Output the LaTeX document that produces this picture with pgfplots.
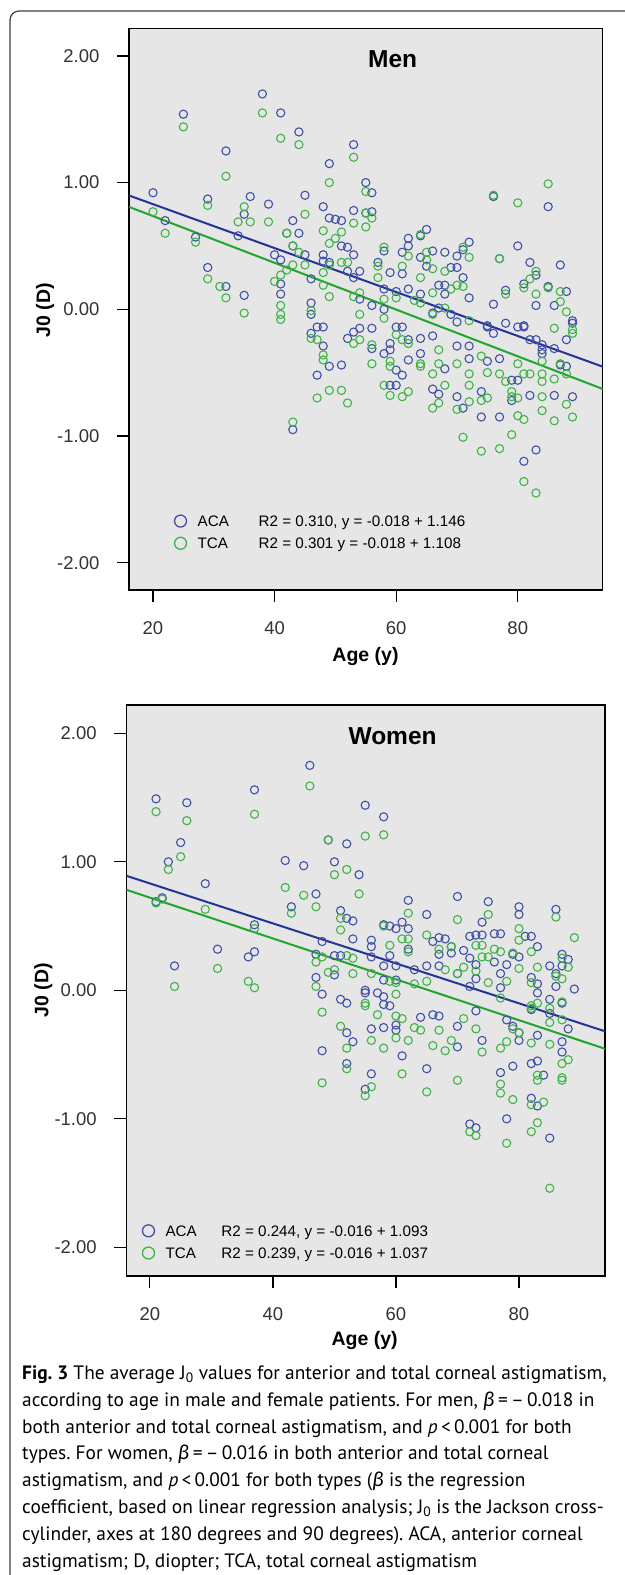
\documentclass[border=0pt]{standalone}
\usepackage{fontspec}
\setmainfont{Liberation Sans}
\newfontfamily\capfont{PT Sans}
\newfontfamily\grk{Fira Sans}
\usepackage{pgfplots}
\pgfplotsset{compat=1.18}
\definecolor{acaM}{RGB}{64,80,168}
\definecolor{tcaM}{RGB}{62,180,70}
\definecolor{acaL}{RGB}{36,52,150}
\definecolor{tcaL}{RGB}{34,165,44}
\definecolor{bg}{RGB}{230,230,230}
\newlength\capw
\newcommand\B{{\grk\itshape β}}
\frenchspacing
\pgfplotsset{
  jstyle/.style={
    scale only axis,
    axis background/.style={fill=bg},
    axis line style={line width=1.3bp, black},
    tick pos=left,
    tick align=outside,
    major tick length=12bp,
    every tick/.style={black, line width=1.2bp},
    xtick={20,40,60,80},
    xticklabels={20,40,60,80},
    ytick={-2,-1,0,1,2},
    yticklabels={-2.00,-1.00,0.00,1.00,2.00},
    tick label style={font=\fontsize{18.5bp}{20bp}\selectfont, text=black!80},
    xticklabel style={anchor=base, inner sep=0pt, yshift=-32.6bp},
    yticklabel style={anchor=east, inner sep=0pt, xshift=-17.5bp},
    legend cell align=left,
    legend style={draw=none, fill=none, inner sep=0pt, outer sep=0pt,
      row sep=5.8bp, column sep=0pt,
      font=\fontsize{15.2bp}{16bp}\selectfont,
      nodes={inner sep=0pt, outer sep=0pt, text height=10.9bp, text depth=0bp}},
    legend image code/.code={\draw[##1, mark size=6bp, mark options={line width=1.3bp}] plot coordinates {(0bp,0bp)}; \path (-8bp,-8bp) (16.9bp,8bp);},
  },
  aca/.style={only marks, mark=o, color=acaM, mark size=4.1bp, mark options={line width=1.1bp}},
  tca/.style={only marks, mark=o, color=tcaM, mark size=4.1bp, mark options={line width=1.1bp}},
}
\begin{document}
\settowidth\capw{\capfont\fontsize{10bp}{12bp}\selectfont\textbf{Fig.\ 3} The average J\textsubscript{0} values for anterior and total corneal astigmatism,}%
\pgfmathsetmacro\capsize{5872/\capw}%
\begin{tikzpicture}
\useasboundingbox (0,0) rectangle (625bp,-1575bp);
\fill[white] (0,0) rectangle (625bp,-1575bp);
\draw[line width=1.2bp, black!75, rounded corners=9bp] (10bp,-1590bp) -- (10bp,-11bp) -- (640bp,-11bp);

% ---------------- Men ----------------
\begin{axis}[jstyle, at={(129.1bp,-590bp)}, anchor=south west,
  width=473.6bp, height=561.7bp,
  xmin=16.07, xmax=93.97, ymin=-2.216, ymax=2.218,
  legend style={at={(0.1082,0.1231)}, anchor=north west, xshift=-8bp, yshift=8bp}]
\addplot[aca] coordinates {
(20,0.92) (22,0.70) (25,1.54) (27,0.57) (29,0.87) (29,0.33) (32,0.18) (32,1.25) (34,0.58) (35,0.11) (35,0.75) (36,0.89) (38,1.70) (39,0.83) (41,1.55) (40,0.43) (41,0.39) (41,0.20) (41,0.12) (42,0.60) (43,0.70) (43,0.50) (44,0.60) (44,1.40) (45,0.90) (45,0.43) (46,0.24) (46,0.05) (46,-0.04) (48,0.81) (48,0.43) (48,0.38) (49,1.15) (49,0.72) (49,0.37) (50,0.71) (51,0.70) (51,0.50) (52,0.49) (52,0.30) (53,1.30) (53,0.78) (53,0.43) (53,0.25) (54,0.30) (54,0.08) (55,1.00) (56,0.92) (55,0.76) (56,0.77) (58,0.46) (57,0.37) (58,0.16) (59,0.29) (58,0.00) (56,0.03) (60,0.14) (61,0.45) (62,0.56) (62,0.50) (61,0.28) (62,0.16) (64,0.58) (65,0.63) (66,0.46) (64,0.41) (65,0.34) (68,0.45) (69,0.33) (70,0.33) (70,0.42) (71,0.47) (72,0.53) (71,0.25) (67,0.19) (68,0.19) (64,0.12) (68,0.12) (72,0.09) (67,0.01) (66,-0.03) (69,-0.04) (70,-0.10) (76,0.89) (85,0.81) (80,0.50) (77,0.40) (82,0.37) (87,0.35) (83,0.27) (81,0.20) (85,0.18) (78,0.15) (76,0.04) (88,0.14) (86,0.03) (83,0.03) (89,-0.09) (75,-0.13) (78,-0.11) (81,-0.13)
(46,-0.19) (47,-0.14) (48,-0.14) (48,-0.29) (49,-0.45) (47,-0.52) (51,-0.44) (52,-0.23) (53,-0.18) (54,-0.15) (56,-0.15) (56,-0.31) (58,-0.35) (59,-0.27) (59,-0.32) (60,-0.14) (61,-0.14) (62,-0.24) (60,-0.48) (61,-0.52) (59,-0.60) (60,-0.60) (62,-0.40) (64,-0.35) (64,-0.23) (66,-0.21) (68,-0.47) (66,-0.63) (67,-0.67) (70,-0.69) (71,-0.78) (72,-0.29) (72,-0.39) (70,-0.29) (74,-0.65) (74,-0.85) (75,-0.41) (75,-0.14) (77,-0.85) (77,-0.39) (76,-0.19) (79,-0.56) (79,-0.72) (81,-1.20) (83,-1.11) (82,-0.68) (86,-0.68) (89,-0.69) (88,-0.45) (87,-0.44) (86,-0.31) (88,-0.24) (89,-0.11) (84,-0.28) (84,-0.32) (84,-0.35) (82,-0.24) (83,-0.24) (80,-0.14) (81,-0.14) (80,-0.56) (43,-0.95)
};
\addlegendentry{\makebox[61bp][l]{ACA}R2 = 0.310, y = -0.018 + 1.146}
\addplot[tca] coordinates {
(20,0.77) (22,0.60) (25,1.44) (27,0.53) (29,0.82) (29,0.24) (31,0.18) (32,0.09) (32,1.05) (34,0.69) (35,-0.03) (35,0.81) (36,0.69) (38,1.55) (39,0.69) (41,1.35) (40,0.22) (41,0.27) (41,0.03) (41,-0.04) (42,0.60) (43,0.50) (42,0.31) (44,1.30) (45,0.75) (43,0.35) (45,0.35) (44,0.45) (46,-0.01) (48,0.62) (48,0.29) (48,0.19) (49,1.00) (49,0.52) (49,0.10) (49,0.35) (51,0.61) (50,0.56) (51,0.37) (52,0.37) (53,1.20) (53,0.68) (53,0.10) (54,0.13) (54,-0.04) (55,0.93) (55,0.76) (55,0.65) (56,0.72) (58,0.49) (57,0.34) (57,0.25) (58,0.08) (58,-0.07) (60,0.09) (62,0.42) (61,0.34) (63,0.07) (64,0.59) (65,0.45) (65,0.39) (64,0.25) (66,0.32) (68,0.30) (71,0.49) (72,0.41) (70,0.19) (66,0.13) (64,0.05) (71,0.18) (69,0.16) (68,0.01) (66,-0.04) (72,-0.09) (76,0.90) (80,0.84) (85,0.99) (77,0.40) (83,0.30) (82,0.24) (81,0.17) (85,0.17) (78,0.12) (83,0.12) (87,0.14) (87,0.06) (88,-0.02) (89,-0.16)
(41,-0.08) (46,-0.23) (47,-0.24) (48,-0.36) (48,-0.40) (49,-0.64) (51,-0.64) (47,-0.70) (52,-0.74) (53,-0.27) (54,-0.24) (56,-0.28) (56,-0.43) (59,-0.41) (59,-0.45) (60,-0.20) (61,-0.24) (62,-0.27) (58,-0.60) (59,-0.68) (61,-0.69) (62,-0.65) (64,-0.43) (64,-0.45) (66,-0.51) (67,-0.43) (67,-0.32) (68,-0.60) (66,-0.78) (67,-0.74) (70,-0.79) (71,-1.01) (72,-0.60) (72,-0.73) (72,-0.51) (70,-0.43) (74,-0.72) (74,-1.12) (75,-0.70) (75,-0.50) (74,-0.37) (77,-1.10) (77,-0.51) (78,-0.57) (79,-0.65) (79,-0.69) (80,-0.70) (79,-0.99) (80,-0.84) (81,-0.87) (81,-1.36) (83,-1.45) (84,-0.69) (84,-0.80) (86,-0.88) (86,-0.55) (88,-0.75) (89,-0.85) (88,-0.51) (87,-0.43) (89,-0.19) (86,-0.15) (84,-0.41) (84,-0.51) (84,-0.57) (82,-0.51) (81,-0.51) (80,-0.43) (43,-0.89)
};
\addlegendentry{\makebox[61bp][l]{TCA}R2 = 0.301 y = -0.018 + 1.108}
\addplot[acaL, line width=2bp, forget plot] coordinates {(16.07,0.898) (93.97,-0.453)};
\addplot[tcaL, line width=2bp, forget plot] coordinates {(16.07,0.808) (93.97,-0.629)};
\end{axis}
\node[anchor=base, font=\bfseries\fontsize{24.5bp}{26bp}\selectfont] at (392.6bp,-67.8bp) {Men};
\node[anchor=base, font=\bfseries\fontsize{19.5bp}{21bp}\selectfont] at (365.5bp,-661bp) {Age (y)};
\node[rotate=90, font=\bfseries\fontsize{19.5bp}{21bp}\selectfont] at (45bp,-310bp) {J0 (D)};

% ---------------- Women ----------------
\begin{axis}[jstyle, at={(126.4bp,-1276bp)}, anchor=south west,
  width=478.7bp, height=571bp,
  xmin=16.18, xmax=94.0, ymin=-2.223, ymax=2.22,
  legend style={at={(0.0457,0.0795)}, anchor=north west, xshift=-8bp, yshift=8bp}]
\addplot[aca] coordinates {
(21,1.49) (21,0.69) (22,0.72) (23,1.00) (25,1.15) (26,1.46) (24,0.19) (29,0.83) (31,0.32) (36,0.26) (37,0.30) (37,1.56) (37,0.51) (42,1.01) (43,0.65) (45,0.97) (46,1.75) (47,0.75) (48,0.38) (47,0.28) (47,0.10) (48,-0.03) (49,1.17) (50,1.00) (52,1.14) (54,0.90) (51,0.62) (52,0.56) (53,0.54) (53,0.40) (55,1.44) (58,1.35) (50,0.27) (51,0.27) (50,0.12) (56,0.39) (56,0.34) (56,0.26) (55,0.00) (55,-0.02) (58,0.19) (58,0.51) (59,0.50) (60,0.48) (59,0.27) (61,0.53) (62,0.70) (62,0.48) (62,0.32) (60,0.19) (58,0.08) (60,0.08) (57,-0.02) (58,-0.05) (63,0.16) (65,0.59) (66,0.38) (67,0.41) (68,0.40) (69,0.34) (69,0.29) (65,0.19) (67,0.28) (67,0.19) (70,0.73) (70,0.13) (71,0.31) (72,0.42) (73,0.43) (74,0.43) (75,0.69) (74,0.53) (76,0.44) (77,0.44) (72,0.25) (73,0.20) (72,0.03) (73,0.09) (76,0.22) (77,0.13) (77,0.02) (78,0.20) (79,0.28) (80,0.26) (80,0.65) (80,0.59) (81,0.42) (82,0.42) (83,0.34) (82,0.10) (83,0.05) (85,0.19) (86,0.63) (86,0.13) (87,0.28) (88,0.24) (87,0.19) (89,0.01) (86,0.03) (83,-0.02) (85,-0.07)
(48,-0.47) (51,-0.07) (52,-0.10) (52,-0.33) (53,-0.40) (52,-0.57) (55,-0.77) (56,-0.65) (56,-0.30) (58,-0.29) (58,-0.11) (59,-0.12) (60,-0.27) (60,-0.31) (61,-0.51) (64,-0.21) (65,-0.61) (66,-0.19) (67,-0.20) (70,-0.44) (70,-0.28) (72,-1.04) (73,-1.07) (73,-0.16) (74,-0.39) (77,-0.64) (78,-1.00) (78,-0.23) (79,-0.59) (80,-0.39) (82,-0.57) (82,-0.84) (83,-0.90) (83,-0.55) (84,-0.66) (85,-1.15) (83,-0.35) (85,-0.18) (87,-0.40) (87,-0.48) (88,-0.30) (87,-0.10) (82,-0.15) (79,-0.28) (80,-0.33)
};
\addlegendentry{\makebox[55.8bp][l]{ACA}R2 = 0.244, y = -0.016 + 1.093}
\addplot[tca] coordinates {
(21,1.39) (21,0.68) (22,0.71) (23,0.94) (25,1.04) (26,1.32) (24,0.03) (29,0.63) (31,0.17) (36,0.07) (37,0.02) (37,1.37) (37,0.48) (42,0.80) (43,0.60) (45,0.74) (46,1.59) (47,0.65) (47,0.22) (47,0.03) (48,0.26) (49,1.17) (50,0.90) (52,0.94) (54,0.75) (51,0.56) (51,0.47) (55,1.20) (58,1.21) (49,0.14) (50,0.16) (53,0.13) (52,0.27) (53,0.25) (56,0.13) (55,-0.10) (58,0.50) (59,0.35) (62,0.60) (61,0.40) (62,0.40) (62,0.30) (59,0.07) (60,0.06) (60,-0.03) (63,0.05) (65,0.43) (67,0.32) (69,0.34) (65,0.07) (68,0.16) (70,0.55) (70,0.13) (73,0.35) (74,0.35) (74,0.26) (75,0.26) (75,0.59) (71,0.18) (73,0.15) (75,0.06) (76,0.32) (77,0.30) (77,-0.06) (78,0.07) (79,0.29) (80,0.48) (80,0.39) (82,0.30) (80,0.17) (83,0.18) (82,0.06) (86,0.57) (86,0.11) (87,0.25) (88,0.18) (87,0.09) (89,0.41) (82,-0.14) (83,-0.10) (85,-0.14) (87,-0.09)
(48,-0.72) (48,-0.17) (51,-0.28) (52,-0.45) (52,-0.61) (55,-0.82) (56,-0.75) (56,-0.39) (58,-0.45) (55,-0.12) (57,-0.19) (60,-0.37) (60,-0.20) (61,-0.22) (61,-0.65) (62,-0.39) (63,-0.29) (64,-0.31) (65,-0.79) (66,-0.43) (67,-0.31) (68,-0.47) (69,-0.39) (70,-0.70) (71,-0.22) (72,-1.10) (73,-1.13) (73,-0.30) (74,-0.48) (77,-0.45) (77,-0.73) (77,-0.80) (78,-1.19) (78,-0.40) (79,-0.85) (80,-0.33) (82,-0.89) (82,-1.10) (83,-1.03) (83,-0.66) (83,-0.70) (84,-0.87) (85,-1.54) (82,-0.41) (85,-0.25) (85,-0.42) (87,-0.57) (87,-0.68) (87,-0.70) (88,-0.54) (87,-0.23) (82,-0.12) (79,-0.30)
};
\addlegendentry{\makebox[55.8bp][l]{TCA}R2 = 0.239, y = -0.016 + 1.037}
\addplot[acaL, line width=2bp, forget plot] coordinates {(16.18,0.891) (94.0,-0.319)};
\addplot[tcaL, line width=2bp, forget plot] coordinates {(16.18,0.782) (94.0,-0.455)};
\end{axis}
\node[anchor=base, font=\bfseries\fontsize{24.5bp}{26bp}\selectfont] at (392.6bp,-744.8bp) {Women};
\node[anchor=base, font=\bfseries\fontsize{19.5bp}{21bp}\selectfont] at (364.7bp,-1345bp) {Age (y)};
\node[rotate=90, font=\bfseries\fontsize{19.5bp}{21bp}\selectfont] at (43.4bp,-990bp) {J0 (D)};

% ---------------- Caption ----------------
\begin{scope}[every node/.style={anchor=base west, inner sep=0pt, font=\capfont\fontsize{\capsize bp}{\capsize bp}\selectfont}]
\node at (22bp,-1379.5bp) {\textbf{Fig.\ 3} The average J\textsubscript{0} values for anterior and total corneal astigmatism,};
\node at (22bp,-1406.3bp) {according to age in male and female patients. For men, \B\,=\,–\,0.018 in};
\node at (22bp,-1433.1bp) {both anterior and total corneal astigmatism, and \textit{p}\,<\,0.001 for both};
\node at (22bp,-1459.9bp) {types. For women, \B\,=\,–\,0.016 in both anterior and total corneal};
\node at (22bp,-1486.7bp) {astigmatism, and \textit{p}\,<\,0.001 for both types (\B{} is the regression};
\node at (22bp,-1513.5bp) {coefficient, based on linear regression analysis; J\textsubscript{0} is the Jackson cross-};
\node at (22bp,-1540.3bp) {cylinder, axes at 180 degrees and 90 degrees). ACA, anterior corneal};
\node at (22bp,-1567.1bp) {astigmatism; D, diopter; TCA, total corneal astigmatism};
\end{scope}
\end{tikzpicture}
\end{document}
